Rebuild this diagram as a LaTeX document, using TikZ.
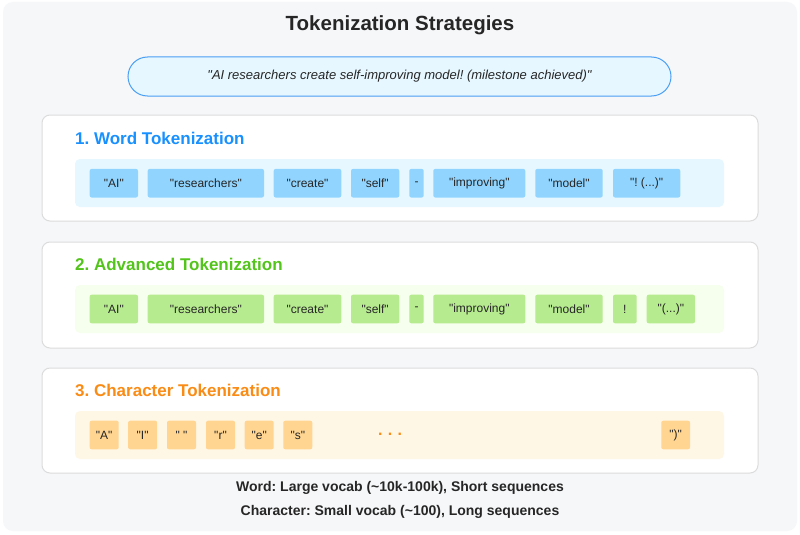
\documentclass[tikz,border=0pt]{standalone}
\usepackage{fontspec}
\setmainfont[Ligatures=TeXOff]{Liberation Sans}
\frenchspacing
\usetikzlibrary{positioning}

\definecolor{pagebg}{HTML}{F6F7F9}
\definecolor{textdark}{HTML}{262626}
\definecolor{panelline}{HTML}{DCDCDC}
\definecolor{wordblue}{HTML}{1890FF}
\definecolor{wordstrip}{HTML}{E6F7FF}
\definecolor{wordtok}{HTML}{91D5FF}
\definecolor{quoteline}{HTML}{4A9FF5}
\definecolor{advgreen}{HTML}{52C41A}
\definecolor{advstrip}{HTML}{F6FFED}
\definecolor{advtok}{HTML}{B7EB8F}
\definecolor{charorange}{HTML}{FA8C16}
\definecolor{charstrip}{HTML}{FFF7E6}
\definecolor{chartok}{HTML}{FFD591}

\tikzset{
  panel/.style={draw=panelline, line width=1pt, fill=white, rounded corners=8pt},
  strip/.style={rounded corners=5pt},
  tok/.style={rectangle, rounded corners=2pt, inner sep=0pt, minimum height=28.6pt,
    text=textdark, font=\fontsize{12}{14}\selectfont},
  wtok/.style={tok, fill=wordtok},
  atok/.style={tok, fill=advtok},
  ctok/.style={tok, fill=chartok, minimum width=29pt},
  ptitle/.style={anchor=west, inner sep=0pt, font=\fontsize{17}{20}\selectfont\bfseries},
  note/.style={text=textdark, inner sep=0pt, font=\fontsize{14}{17}\selectfont\bfseries}
}

\begin{document}
\begin{tikzpicture}[x=1pt,y=-1pt]
  \pgfmathsetmacro {\xpl}{42}   %panel left
  \pgfmathsetmacro {\xpr}{758}  %panel right
  \pgfmathsetmacro {\xsl}{75}   %strip left
  \pgfmathsetmacro {\xsr}{724}  %strip right
  \pgfmathsetmacro {\ya}{183.2} %row 1 centre
  \pgfmathsetmacro {\yb}{309}   %row 2 centre
  \pgfmathsetmacro {\yc}{435}   %row 3 centre

  \useasboundingbox (0,0) rectangle (800,535);
  \fill[white] (0,0) rectangle (800,535);
  \fill[pagebg, rounded corners=10pt] (3,2) rectangle (797,531); %page card

  %Title and sentence
  \node[text=textdark, font=\fontsize{20.5}{24}\selectfont\bfseries] (title) at (400,25) {Tokenization Strategies};
  \node[draw=quoteline, line width=1pt, fill=wordstrip, rounded corners=19.5pt,
    minimum width=543pt, minimum height=39pt, inner sep=0pt,
    font=\fontsize{13}{16}\selectfont\itshape, text=textdark] (sentence) at (399.5,76.5)
    {"AI researchers create self-improving model! (milestone achieved)"};

  %Panel 1: word tokens
  \draw[panel] (\xpl,115) rectangle (\xpr,221);
  \node[ptitle, text=wordblue] (wtitle) at (\xsl,138) {1. Word Tokenization};
  \fill[strip, wordstrip] (\xsl,159) rectangle (\xsr,207);
  \node[wtok, minimum width=48.3pt] (w1) at (113.85,\ya) {"AI"};
  \node[wtok, minimum width=116.3pt] (w2) at (205.85,\ya) {"researchers"};
  \node[wtok, minimum width=67.6pt] (w3) at (307.5,\ya) {"create"};
  \node[wtok, minimum width=48.3pt] (w4) at (375.15,\ya) {"self"};
  \node[wtok, minimum width=14.4pt] (w5) at (416.5,\ya) {-};
  \node[wtok, minimum width=92pt] (w6) at (479.3,\ya) {"improving"};
  \node[wtok, minimum width=67.4pt] (w7) at (569,\ya) {"model"};
  \node[wtok, minimum width=67.3pt] (w8) at (646.65,\ya) {"! (...)"};

  %Panel 2: advanced tokens
  \draw[panel] (\xpl,242) rectangle (\xpr,348);
  \node[ptitle, text=advgreen] (atitle) at (\xsl,264) {2. Advanced Tokenization};
  \fill[strip, advstrip] (\xsl,285) rectangle (\xsr,333);
  \node[atok, minimum width=48.3pt] (a1) at (113.85,\yb) {"AI"};
  \node[atok, minimum width=116.3pt] (a2) at (205.85,\yb) {"researchers"};
  \node[atok, minimum width=67.6pt] (a3) at (307.5,\yb) {"create"};
  \node[atok, minimum width=48.3pt] (a4) at (375.15,\yb) {"self"};
  \node[atok, minimum width=14.4pt] (a5) at (416.5,\yb) {-};
  \node[atok, minimum width=92pt] (a6) at (479.3,\yb) {"improving"};
  \node[atok, minimum width=67.4pt] (a7) at (569,\yb) {"model"};
  \node[atok, minimum width=23.7pt] (a8) at (624.85,\yb) {!};
  \node[atok, minimum width=48.3pt] (a9) at (670.85,\yb) {"(...)"};

  %Panel 3: character tokens
  \draw[panel] (\xpl,368) rectangle (\xpr,473);
  \node[ptitle, text=charorange] (ctitle) at (\xsl,390) {3. Character Tokenization};
  \fill[strip, charstrip] (\xsl,411) rectangle (\xsr,459);
  \node[ctok] (c1) at (104.2,\yc) {"A"};
  \node[ctok] (c2) at (142.65,\yc) {"I"};
  \node[ctok] (c3) at (181.5,\yc) {"\ "};
  \node[ctok] (c4) at (220.5,\yc) {"r"};
  \node[ctok] (c5) at (259.2,\yc) {"e"};
  \node[ctok] (c6) at (297.8,\yc) {"s"};
  \node[text=charorange, font=\fontsize{16}{19}\selectfont\bfseries] (cdots) at (390,434) {.\,\,.\,\,.};
  \node[ctok, minimum width=28.7pt] (c7) at (675.65,\yc) {")"};

  %Summary lines
  \node[note] (wnote) at (400,488) {Word: Large vocab (\textasciitilde 10k-100k), Short sequences};
  \node[note] (cnote) at (400,512) {Character: Small vocab (\textasciitilde 100), Long sequences};
\end{tikzpicture}
\end{document}
